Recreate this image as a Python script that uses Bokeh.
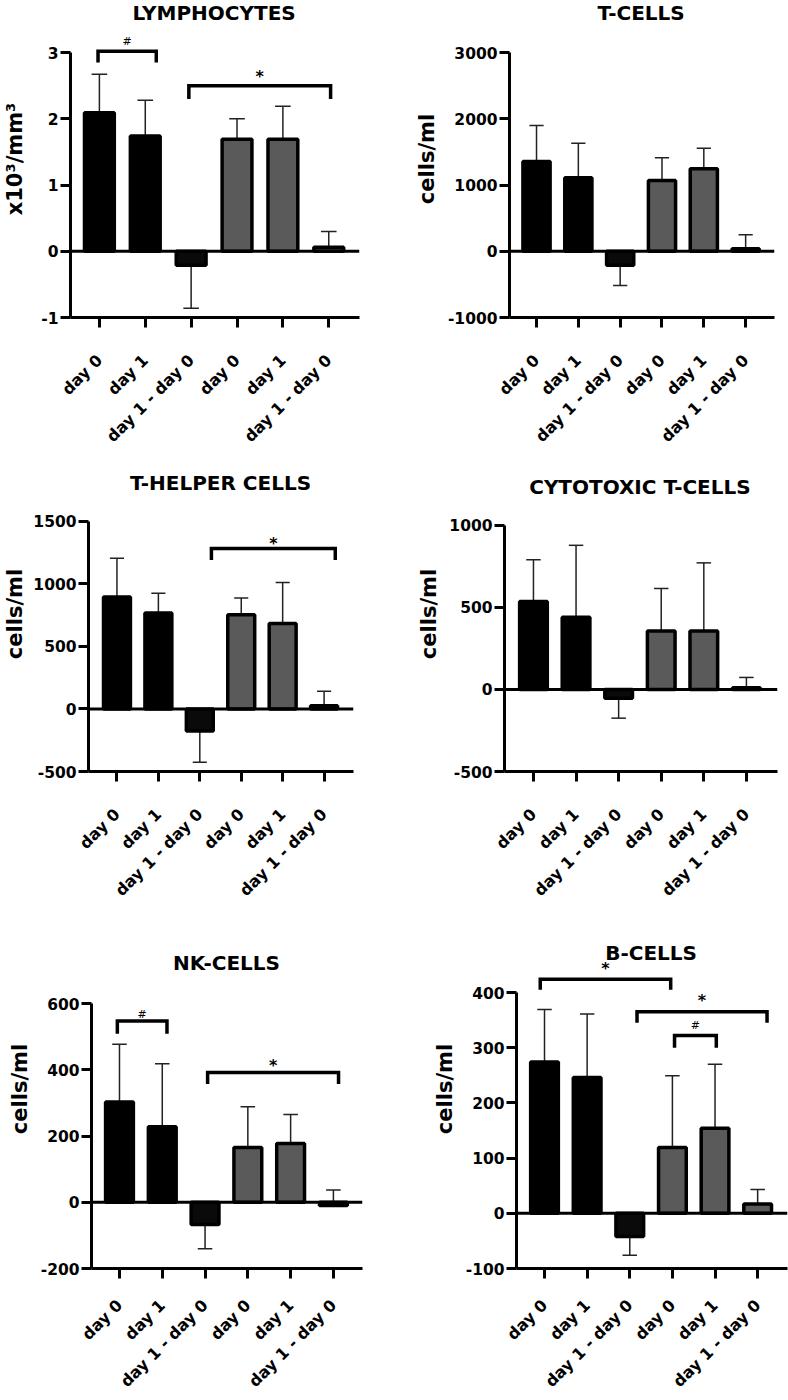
import numpy as np
from bokeh.plotting import figure
from bokeh.models import FixedTicker, Span, Range1d, ColumnDataSource
from bokeh.layouts import column, row
from bokeh.embed import file_html
from bokeh.resources import INLINE
from bokeh.core.properties import value

# ---------------- data ----------------
x_labels = ["day 0", "day 1", "day 1 - day 0", "day 0", "day 1", "day 1 - day 0"]
bar_colors = ["#000000", "#000000", "#0a0a0a", "#5a5a5a", "#5a5a5a", "#5a5a5a"]

lymph_mean = [2.09, 1.74, -0.21, 1.69, 1.69, 0.06]
lymph_sd = [0.58, 0.54, -0.65, 0.31, 0.50, 0.24]      # signed: direction of the drawn bar
lymph_ticks = [-1, 0, 1, 2, 3]
lymph_sig = [(-0.03, 1.24, 3.02, 2.85, 3.17, "#"),
             (1.95, 5.04, 2.50, 2.30, 2.64, "*")]

tcell_mean = [1354, 1109, -210, 1068, 1247, 36]
tcell_sd = [546, 521, -306, 342, 306, 214]
tcell_ticks = [-1000, 0, 1000, 2000, 3000]
tcell_sig = []

thelp_mean = [895, 766, -176, 753, 684, 26]
thelp_sd = [310, 158, -250, 134, 327, 116]
thelp_ticks = [-500, 0, 500, 1000, 1500]
thelp_sig = [(2.28, 5.27, 1283, 1190, 1325, "*")]

cyto_mean = [536, 440, -53, 356, 356, 10]
cyto_sd = [254, 438, -122, 259, 415, 63]
cyto_ticks = [-500, 0, 500, 1000]
cyto_sig = []

nk_mean = [303, 228, -67, 165, 177, -10]
nk_sd = [174, 190, -73, 123, 88, 47]
nk_ticks = [-200, 0, 200, 400, 600]
nk_sig = [(-0.05, 1.11, 547, 509, 568, "#"),
          (2.06, 5.12, 392, 357, 414, "*")]

bcell_mean = [274, 246, -42, 119, 154, 17]
bcell_sd = [95, 115, -34, 130, 116, 26]
bcell_ticks = [-100, 0, 100, 200, 300, 400]
bcell_sig = [(-0.10, 2.96, 424, 405, 444, "*"),
             (2.17, 5.22, 365, 345, 385, "*"),
             (3.05, 4.03, 322, 300, 341, "#")]

FONT = "DejaVu Sans"


def make_panel(title, ylabel, means, sds, yticks, sig, geo):
    (w, bl, br, row_top, row_h, frame_bot, tick_hi_px, title_px,
     xr, yl_std, xl_std) = geo
    scale = (frame_bot - tick_hi_px) / (yticks[-1] - yticks[0])
    y_start = yticks[0]
    y_end = yticks[-1] + (tick_hi_px - row_top) / scale
    title_y = yticks[-1] + (tick_hi_px - title_px) / scale

    p = figure(width=w, height=row_h, output_backend="svg", toolbar_location=None,
               x_range=Range1d(*xr), y_range=Range1d(y_start, y_end),
               min_border_left=bl, min_border_right=br,
               min_border_top=0, min_border_bottom=row_top + row_h - frame_bot)
    p.outline_line_color = None
    p.grid.visible = False
    p.background_fill_color = "white"

    xs = list(range(len(means)))
    ends = [m + s for m, s in zip(means, sds)]
    cap = 0.17
    src = ColumnDataSource(dict(x=xs, top=means, end=ends, color=bar_colors,
                                x0=[x - cap for x in xs], x1=[x + cap for x in xs]))
    p.segment(x0="x", y0="top", x1="x", y1="end", source=src,
              line_color="#222222", line_width=1.5)
    p.segment(x0="x0", y0="end", x1="x1", y1="end", source=src,
              line_color="#222222", line_width=1.5)
    p.vbar(x="x", top="top", bottom=0, width=0.65, fill_color="color",
           line_color="black", line_width=3.5, source=src)
    p.add_layout(Span(location=0, dimension="width", line_color="black", line_width=3))

    for (xa, xb, yb, yl, yt, lab) in sig:
        p.line([xa, xa, xb, xb], [yl, yb, yb, yl], line_color="black",
               line_width=3.5, line_join="miter")
        p.text([(xa + xb) / 2], [yt], text=[lab], text_align="center",
               text_baseline="middle", text_font=value(FONT),
               text_font_style="bold" if lab == "*" else "normal",
               text_font_size="16px" if lab == "*" else "11px", text_color="black")

    # panel title, centred over the six categories
    p.text([(xs[0] + xs[-1]) / 2], [title_y], text=[title], text_align="center",
           text_baseline="middle", text_font=value(FONT), text_font_style="bold",
           text_font_size="20px", text_color="black")

    ya = p.yaxis[0]
    ya.ticker = FixedTicker(ticks=yticks)
    ya.major_label_overrides = {t: str(t) for t in yticks}
    ya.bounds = (yticks[0], yticks[-1])
    ya.axis_line_width = 3
    ya.major_tick_line_width = 3
    ya.major_tick_out = 10
    ya.major_tick_in = 0
    ya.minor_tick_line_color = None
    ya.major_label_text_font = FONT
    ya.major_label_text_font_style = "bold"
    ya.major_label_text_font_size = "15.5px"
    ya.major_label_text_color = "black"
    ya.major_label_standoff = 2
    ya.axis_label = ylabel
    ya.axis_label_text_font = FONT
    ya.axis_label_text_font_style = "bold"
    ya.axis_label_text_font_size = "21px"
    ya.axis_label_text_color = "black"
    ya.axis_label_standoff = yl_std

    xa_ = p.xaxis[0]
    xa_.ticker = FixedTicker(ticks=xs)
    xa_.major_label_overrides = {i: lab for i, lab in enumerate(x_labels)}
    xa_.major_label_orientation = np.pi / 4
    xa_.axis_line_width = 3
    xa_.major_tick_line_width = 3
    xa_.major_tick_out = 10
    xa_.major_tick_in = 0
    xa_.minor_tick_line_color = None
    xa_.major_label_text_font = FONT
    xa_.major_label_text_font_style = "bold"
    xa_.major_label_text_font_size = "16px"
    xa_.major_label_text_color = "black"
    xa_.major_label_standoff = xl_std
    return p


# geometry (pixels): width, border left/right, row top, row height, frame bottom
#   (= lowest tick), highest-tick y, title y, x range, y-label standoff, x-label standoff
p1 = make_panel("LYMPHOCYTES", "x10³/mm³", lymph_mean, lymph_sd, lymph_ticks, lymph_sig,
                (394, 69, 35, 0, 456, 317, 52, 12, (-0.63, 5.67), 11, 30))
p2 = make_panel("T-CELLS", "cells/ml", tcell_mean, tcell_sd, tcell_ticks, tcell_sig,
                (394, 115, 14, 0, 456, 317, 52, 12, (-0.646, 5.69), 6, 30))
p3 = make_panel("T-HELPER CELLS", "cells/ml", thelp_mean, thelp_sd, thelp_ticks, thelp_sig,
                (394, 83, 41, 456, 453, 772, 521, 483, (-0.687, 5.71), 3, 30))
p4 = make_panel("CYTOTOXIC T-CELLS", "cells/ml", cyto_mean, cyto_sd, cyto_ticks, cyto_sig,
                (394, 110, 11, 456, 453, 772, 525, 487, (-0.68, 5.73), 5, 30))
p5 = make_panel("NK-CELLS", "cells/ml", nk_mean, nk_sd, nk_ticks, nk_sig,
                (394, 91, 32, 909, 491, 1268, 1003, 962, (-0.654, 5.68), 6, 24))
p6 = make_panel("B-CELLS", "cells/ml", bcell_mean, bcell_sd, bcell_ticks, bcell_sig,
                (394, 122, 1, 909, 491, 1268, 992, 952, (-0.657, 5.70), 6, 24))

layout = column(row(p1, p2), row(p3, p4), row(p5, p6))
open("out.html", "w").write(file_html(layout, INLINE))
